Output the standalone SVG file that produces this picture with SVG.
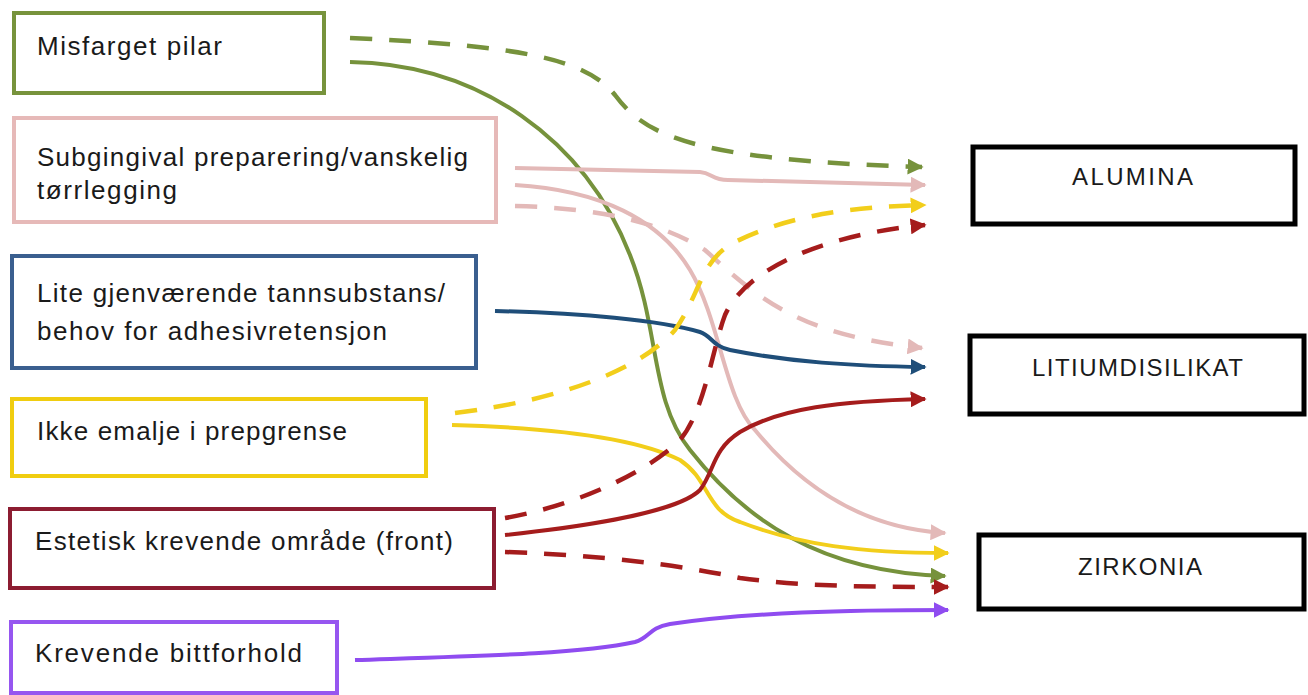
<svg xmlns="http://www.w3.org/2000/svg" width="1308" height="695" viewBox="0 0 1308 695">
<style>
text{font-family:"Liberation Sans",Arial,sans-serif;font-size:26px;fill:#1a1a1a}
.rt{font-size:24px;text-anchor:start}
.box{fill:#fff;stroke-width:4}
.rbox{fill:#fff;stroke:#000;stroke-width:5}
.c{fill:none;stroke-width:4}
.d{stroke-dasharray:22 17;stroke-width:4.5}
</style>
<defs>
<marker id="aG" viewBox="0 0 10 10" refX="9" refY="5" markerWidth="16" markerHeight="16" markerUnits="userSpaceOnUse" orient="auto"><path d="M0,0L10,5L0,10z" fill="#76923c"/></marker>
<marker id="aP" viewBox="0 0 10 10" refX="9" refY="5" markerWidth="16" markerHeight="16" markerUnits="userSpaceOnUse" orient="auto"><path d="M0,0L10,5L0,10z" fill="#e3b9b8"/></marker>
<marker id="aB" viewBox="0 0 10 10" refX="9" refY="5" markerWidth="16" markerHeight="16" markerUnits="userSpaceOnUse" orient="auto"><path d="M0,0L10,5L0,10z" fill="#1f4e79"/></marker>
<marker id="aY" viewBox="0 0 10 10" refX="9" refY="5" markerWidth="16" markerHeight="16" markerUnits="userSpaceOnUse" orient="auto"><path d="M0,0L10,5L0,10z" fill="#f2ce1b"/></marker>
<marker id="aR" viewBox="0 0 10 10" refX="9" refY="5" markerWidth="16" markerHeight="16" markerUnits="userSpaceOnUse" orient="auto"><path d="M0,0L10,5L0,10z" fill="#a51c1c"/></marker>
<marker id="aV" viewBox="0 0 10 10" refX="9" refY="5" markerWidth="16" markerHeight="16" markerUnits="userSpaceOnUse" orient="auto"><path d="M0,0L10,5L0,10z" fill="#8f4cf0"/></marker>
</defs>
<rect width="1308" height="695" fill="#fff"/>
<g id="n1"><rect class="box" x="14" y="13" width="310" height="80" stroke="#77933c"/><text x="37" y="55" textLength="185" lengthAdjust="spacing">Misfarget pilar</text></g>
<g id="n2"><rect class="box" x="14" y="118" width="482" height="104" stroke="#e6b9b8"/><text x="37" y="166" textLength="431" lengthAdjust="spacing">Subgingival preparering/vanskelig</text><text x="37" y="199" textLength="140" lengthAdjust="spacing">tørrlegging</text></g>
<g id="n3"><rect class="box" x="12" y="256" width="464" height="112" stroke="#3a5f8f"/><text x="37" y="302" textLength="408" lengthAdjust="spacing">Lite gjenværende tannsubstans/</text><text x="37" y="340" textLength="350" lengthAdjust="spacing">behov for adhesivretensjon</text></g>
<g id="n4"><rect class="box" x="12" y="399" width="414" height="77" stroke="#f0cd10"/><text x="37" y="440" textLength="310" lengthAdjust="spacing">Ikke emalje i prepgrense</text></g>
<g id="n5"><rect class="box" x="10" y="509" width="484" height="79" stroke="#8c1c31"/><text x="35" y="550" textLength="418" lengthAdjust="spacing">Estetisk krevende område (front)</text></g>
<g id="n6"><rect class="box" x="11" y="622" width="326" height="71" stroke="#9656f0"/><text x="35" y="662" textLength="267" lengthAdjust="spacing">Krevende bittforhold</text></g>
<g id="m1"><rect class="rbox" x="973" y="147" width="322" height="77"/><text class="rt" x="1072" y="185" textLength="121" lengthAdjust="spacing">ALUMINA</text></g>
<g id="m2"><rect class="rbox" x="970" y="336" width="334" height="78"/><text class="rt" x="1032" y="376" textLength="211" lengthAdjust="spacing">LITIUMDISILIKAT</text></g>
<g id="m3"><rect class="rbox" x="979" y="535" width="325" height="74"/><text class="rt" x="1078" y="575" textLength="124" lengthAdjust="spacing">ZIRKONIA</text></g>
<g id="connectors">
<path class="c d" stroke="#76923c" marker-end="url(#aG)" d="M350,38 C520,46 585,58 615,95 C645,135 690,160 922,167"/>
<path class="c" stroke="#76923c" marker-end="url(#aG)" d="M350,62 C480,64 585,140 630,255 C660,330 650,400 690,450 C745,520 820,572 945,576"/>
<path class="c" stroke="#e3b9b8" marker-end="url(#aP)" d="M515,168 L700,172 C712,173 712,180 728,180 L925,185"/>
<path class="c" stroke="#e3b9b8" marker-end="url(#aP)" d="M515,185 C600,190 660,220 690,270 C720,320 725,400 755,430 C800,485 860,528 945,533"/>
<path class="c d" stroke="#e3b9b8" marker-end="url(#aP)" d="M515,206 C600,208 660,222 705,250 C760,300 800,335 922,348"/>
<path class="c" stroke="#1f4e79" marker-end="url(#aB)" d="M495,311 C580,313 660,320 700,332 C712,336 712,346 730,350 C790,362 850,366 925,367"/>
<path class="c d" stroke="#f2ce1b" marker-end="url(#aY)" d="M455,413 C560,400 640,370 675,330 C700,295 700,260 735,242 C790,215 850,207 925,205"/>
<path class="c" stroke="#f2ce1b" marker-end="url(#aY)" d="M452,425 C560,428 640,440 680,460 C710,480 705,510 740,522 C800,545 860,553 948,553"/>
<path class="c d" stroke="#a51c1c" marker-end="url(#aR)" d="M505,518 C580,505 650,470 680,440 C705,410 712,350 725,315 C745,270 820,235 925,225"/>
<path class="c" stroke="#a51c1c" marker-end="url(#aR)" d="M505,535 C600,525 680,510 700,490 C715,470 712,450 740,432 C780,408 840,401 925,399"/>
<path class="c d" stroke="#a51c1c" marker-end="url(#aR)" d="M505,552 C600,555 680,565 740,578 C800,586 860,587 948,587"/>
<path class="c" stroke="#8f4cf0" marker-end="url(#aV)" d="M355,660 C480,656 580,654 635,642 C650,638 648,628 670,624 C750,612 850,610 948,610"/>
</g>
</svg>
